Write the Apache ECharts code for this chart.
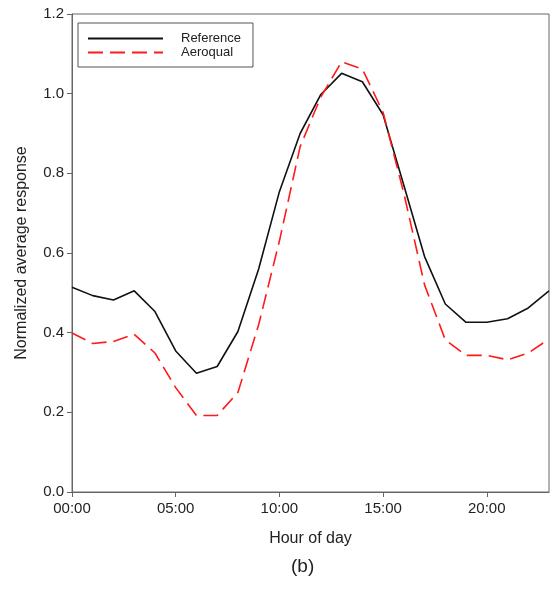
<!DOCTYPE html>
<html><head><meta charset="utf-8">
<script src="https://cdn.jsdelivr.net/npm/echarts@6/dist/echarts.min.js"></script>
<style>html,body{margin:0;padding:0;background:#fff}#c{width:552px;height:591px}</style>
</head><body><div id="c"></div>
<script>
const hours = [0,1,2,3,4,5,6,7,8,9,10,11,12,13,14,15,16,17,18,19,20,21,22,23];
const referenceVals = [0.514,0.493,0.482,0.505,0.453,0.354,0.298,0.315,0.403,0.560,0.754,0.900,0.998,1.051,1.030,0.947,0.770,0.591,0.472,0.426,0.426,0.435,0.462,0.505];
const aeroqualVals = [0.399,0.373,0.378,0.396,0.349,0.262,0.192,0.192,0.250,0.420,0.630,0.867,0.992,1.080,1.062,0.953,0.750,0.520,0.382,0.343,0.343,0.332,0.349,0.384];
const xTickLabels = ['00:00','05:00','10:00','15:00','20:00'];
const yTickLabels = ['0.0','0.2','0.4','0.6','0.8','1.0','1.2'];

const font = 'Arial, "Liberation Sans", Helvetica, sans-serif';
const chart = echarts.init(document.getElementById('c'));
chart.setOption({
  animation: false,
  grid: {left: 72, top: 14, right: 3, bottom: 99, show: true, borderColor: '#666', borderWidth: 1},
  legend: {
    orient: 'vertical', left: 78, top: 23,
    padding: [9, 12, 8, 9], itemGap: 1,
    itemWidth: 75, itemHeight: 15,
    borderColor: '#555', borderWidth: 1, borderRadius: 0,
    itemStyle: {opacity: 0},
    textStyle: {fontFamily: font, fontSize: 13, color: '#222', padding: [0, 0, 0, 13]},
    data: ['Reference', 'Aeroqual']
  },
  xAxis: {
    type: 'value', min: 0, max: 23, interval: 5,
    name: 'Hour of day', nameLocation: 'middle', nameGap: 39,
    nameTextStyle: {fontFamily: font, fontSize: 16, color: '#222'},
    axisLine: {lineStyle: {color: '#666'}},
    axisTick: {show: true, length: 5, lineStyle: {color: '#666'}},
    axisLabel: {fontFamily: font, fontSize: 15, color: '#222', margin: 9, showMaxLabel: false,
      formatter: v => xTickLabels[Math.round(v / 5)] || ''},
    splitLine: {show: false}
  },
  yAxis: {
    type: 'value', min: 0, max: 1.2, interval: 0.2,
    name: 'Normalized average response', nameLocation: 'middle', nameGap: 42, nameRotate: 90,
    nameTextStyle: {fontFamily: font, fontSize: 16, color: '#222'},
    axisLine: {show: true, lineStyle: {color: '#666'}},
    axisTick: {show: true, length: 5, lineStyle: {color: '#666'}},
    axisLabel: {fontFamily: font, fontSize: 15, color: '#222', margin: 8,
      formatter: v => yTickLabels[Math.round(v / 0.2)] || ''},
    splitLine: {show: false}
  },
  graphic: [{type: 'text', left: 291, top: 557, style: {text: '(b)', font: '19px ' + font, fill: '#222'}}],
  series: [
    {name: 'Reference', type: 'line', symbol: 'none', data: hours.map((h, i) => [h, referenceVals[i]]),
     lineStyle: {color: '#111', width: 1.6}, itemStyle: {color: '#111'}},
    {name: 'Aeroqual', type: 'line', symbol: 'none', data: hours.map((h, i) => [h, aeroqualVals[i]]),
     lineStyle: {color: '#ff1a1a', width: 1.6, type: [15, 7]}, itemStyle: {color: '#ff1a1a'}}
  ]
});
</script></body></html>
